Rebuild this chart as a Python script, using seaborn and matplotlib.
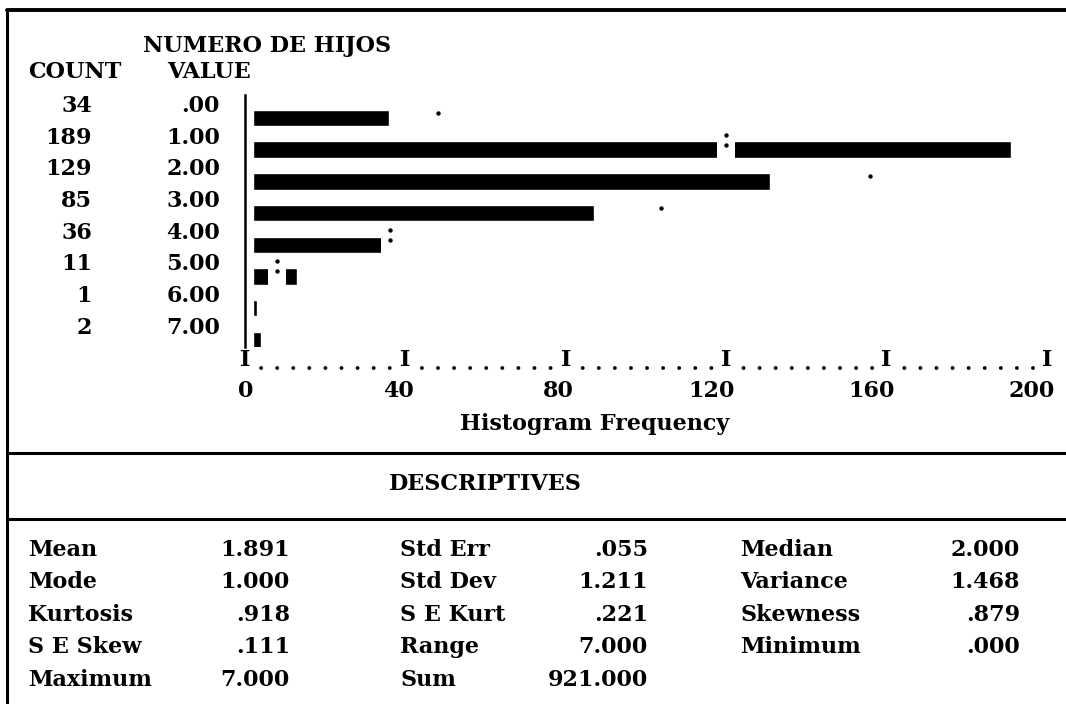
import matplotlib
matplotlib.use('Agg')
import matplotlib.pyplot as plt
import matplotlib.transforms as mtransforms
from matplotlib.lines import Line2D
import pandas as pd
import seaborn as sns

# histogram rows of the SPSS listing
values = ['.00', '1.00', '2.00', '3.00', '4.00', '5.00', '6.00', '7.00']
counts = [34, 189, 129, 85, 36, 11, 1, 2]

# normal curve marks (rows .00 - 5.00)
normal_freq = [48.1, 120.0, 155.9, 103.7, 36.2, 8.0]
normal_marks = ['.', ':', '.', '.', ':', ':']

x_ticks = [0, 40, 80, 120, 160, 200]

# descriptives block, three columns
desc_labels_1 = ['Mean', 'Mode', 'Kurtosis', 'S E Skew', 'Maximum']
desc_values_1 = ['1.891', '1.000', '.918', '.111', '7.000']
desc_labels_2 = ['Std Err', 'Std Dev', 'S E Kurt', 'Range', 'Sum']
desc_values_2 = ['.055', '1.211', '.221', '7.000', '921.000']
desc_labels_3 = ['Median', 'Variance', 'Skewness', 'Minimum']
desc_values_3 = ['2.000', '1.468', '.879', '.000']

W, H, DPI = 1066, 704, 100
FS = 16

sns.set_theme(style='white')
plt.rcParams['font.family'] = ['DejaVu Serif']
plt.rcParams['font.weight'] = 'bold'
plt.rcParams['text.color'] = 'black'
plt.rcParams['axes.labelcolor'] = 'black'

fig = plt.figure(figsize=(W / DPI, H / DPI), dpi=DPI)


def fx(px):
    return px / W


def fy(py):
    return 1 - py / H


def shift(dx, dy):
    # pixel offset, dy positive = down
    return mtransforms.ScaledTranslation(dx / DPI, -dy / DPI, fig.dpi_scale_trans)


# plot area: 0 at px 245, ~4 px per count, rows ~31.7 px apart
ax = fig.add_axes([fx(245), fy(347), 204 * 4.01 / W, (347 - 95) / H])
df = pd.DataFrame({'value': values, 'count': counts})
sns.barplot(data=df, x='count', y='value', orient='h', color='black',
            width=0.52, errorbar=None, saturation=1, left=2, ax=ax)

ax.set_xlim(0, 204)
ax.set_ylim(7.224, -0.7256)
ax.set_xticks([])
ax.set_yticks([])
ax.set_ylabel('')
sns.despine(ax=ax, bottom=True)
ax.spines['left'].set_color('black')
ax.spines['left'].set_linewidth(1.8)

# normal curve: blank character cell, then '.' or ':'
rows = list(range(len(normal_freq)))
ax.scatter(normal_freq, rows, marker='s', s=160, color='white',
           linewidths=0, zorder=3)
ax.scatter(normal_freq, rows, marker='o', s=10, color='black', linewidths=0,
           transform=ax.transData + shift(0, -5), zorder=4)
colon_x = [f for f, m in zip(normal_freq, normal_marks) if m == ':']
colon_rows = [r for r, m in zip(rows, normal_marks) if m == ':']
ax.scatter(colon_x, colon_rows, marker='o', s=10, color='black', linewidths=0,
           transform=ax.transData + shift(0, -15), zorder=4)

# COUNT / VALUE columns
lab_tr = mtransforms.blended_transform_factory(fig.transFigure, ax.transData) + shift(0, -12)
for i, (c, v) in enumerate(zip(counts, values)):
    ax.text(fx(92), i, str(c), transform=lab_tr, ha='right', va='center', fontsize=FS)
    ax.text(fx(220), i, v, transform=lab_tr, ha='right', va='center', fontsize=FS)

fig.text(fx(143), fy(46), 'NUMERO DE HIJOS', ha='left', va='center', fontsize=FS)
fig.text(fx(28), fy(72), 'COUNT', ha='left', va='center', fontsize=FS)
fig.text(fx(167), fy(72), 'VALUE', ha='left', va='center', fontsize=FS)

# text-style axis: I.........I
bt = mtransforms.blended_transform_factory(ax.transData, ax.transAxes)
ax.plot([x_ticks[0], x_ticks[-1]], [0, 0], transform=bt + shift(0, 21),
        color='black', lw=2.8, dashes=(0.01, 4.125), dash_capstyle='round',
        clip_on=False)
for t in x_ticks:
    ax.text(t, 0, 'I', transform=bt + shift(0, 13), ha='center', va='center',
            fontsize=FS, bbox=dict(facecolor='white', edgecolor='none', pad=0))
    ax.text(t, 0, str(t), transform=bt + shift(8, 44), ha='right', va='center',
            fontsize=FS)

ax.set_xlabel('Histogram Frequency', fontsize=FS, fontweight='bold',
              color='black', va='baseline')
ax.xaxis.set_label_coords(350 / 818, (347 - 430) / 252)

# frame and separators
for y0 in [453, 519]:
    fig.add_artist(Line2D([fx(7), 1], [fy(y0), fy(y0)], transform=fig.transFigure,
                          color='black', lw=2.2))
fig.add_artist(Line2D([fx(7), 1], [fy(10), fy(10)], transform=fig.transFigure,
                      color='black', lw=2.8))
fig.add_artist(Line2D([fx(7), fx(7)], [fy(10), 0], transform=fig.transFigure,
                      color='black', lw=2.2))

fig.text(fx(485), fy(484), 'DESCRIPTIVES', ha='center', va='center', fontsize=FS)

row_y = [550, 582, 615, 647, 680]
columns = [(desc_labels_1, desc_values_1, 28, 290),
           (desc_labels_2, desc_values_2, 400, 648),
           (desc_labels_3, desc_values_3, 740, 1020)]
for labels, vals, lx, vx in columns:
    for lab, val, y in zip(labels, vals, row_y):
        fig.text(fx(lx), fy(y), lab, ha='left', va='center', fontsize=FS)
        fig.text(fx(vx), fy(y), val, ha='right', va='center', fontsize=FS)

fig.savefig('out.png', dpi=DPI)
